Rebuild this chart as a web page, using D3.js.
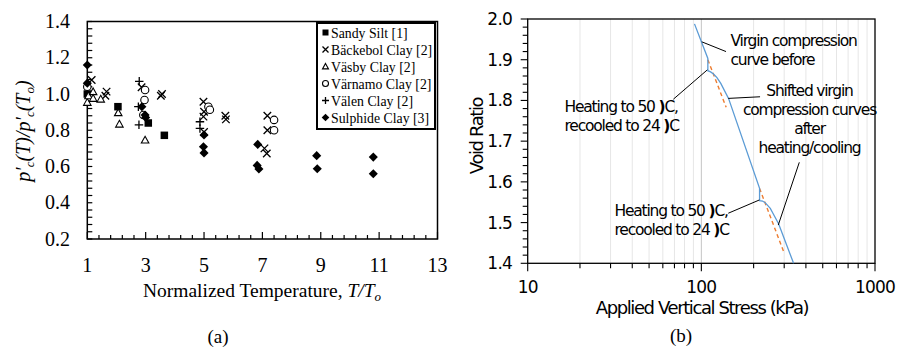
<!DOCTYPE html>
<html>
<head>
<meta charset="utf-8">
<script src="https://cdn.jsdelivr.net/npm/d3@7"></script>
<style>
  body { margin: 0; background: #fff; }
  svg { display: block; }
</style>
</head>
<body>
<svg id="chart" width="898" height="349"></svg>
<script>
// ---- panel (a) data: [T/To, p'c(T)/p'c(To)] ----
const sandySilt = [[1.0, 1.0], [2.05, 0.93], [3.09, 0.84], [3.64, 0.772]];
const backebolClay = [[1.15, 1.077], [1.66, 1.013], [1.62, 0.99], [2.86, 1.037], [3.52, 0.99], [3.56, 1.0],
  [4.98, 0.957], [5.0, 0.902], [4.98, 0.875], [5.0, 0.79], [5.73, 0.88], [5.75, 0.86],
  [7.17, 0.88], [7.17, 0.80], [7.07, 0.70], [7.15, 0.672]];
const vasbyClay = [[1.0, 0.954], [1.04, 0.99], [1.2, 1.013], [1.2, 0.976], [1.46, 0.972],
  [2.06, 0.897], [2.1, 0.834], [2.98, 0.746]];
const varnamoClay = [[1.0, 1.04], [2.98, 1.022], [2.96, 0.967], [2.92, 0.884],
  [5.15, 0.93], [5.2, 0.913], [7.4, 0.857], [7.4, 0.80]];
const valenClay = [[2.78, 1.07], [2.75, 0.93], [2.77, 0.83], [4.86, 0.847], [4.86, 0.81]];
const sulphideClay = [[1.0, 1.16], [1.0, 1.06], [2.87, 0.93], [2.98, 0.884], [3.0, 0.87],
  [5.0, 0.774], [4.98, 0.709], [5.0, 0.675], [6.84, 0.722], [6.82, 0.606], [6.88, 0.586],
  [8.86, 0.66], [8.88, 0.588], [10.8, 0.652], [10.8, 0.56]];
const seriesNames = ["Sandy Silt [1]", "Bäckebol Clay [2]", "Väsby Clay [2]", "Värnamo Clay [2]", "Välen Clay [2]", "Sulphide Clay [3]"];
const xTicksA = [1, 3, 5, 7, 9, 11, 13];
const yTicksA = [0.2, 0.4, 0.6, 0.8, 1.0, 1.2, 1.4];

// ---- panel (b) data: [stress kPa, void ratio] ----
const virginCurve = [[91.3, 1.988], [109, 1.903], [109, 1.873], [113, 1.870], [117.5, 1.865], [123, 1.856],
  [129.4, 1.842], [143.4, 1.805], [216.4, 1.584], [216.4, 1.554], [225, 1.553], [233, 1.549],
  [249.5, 1.535], [262, 1.518], [278.5, 1.497], [339.7, 1.4]];
const originalLine1 = [[109, 1.90], [139, 1.783]];
const originalLine2 = [[216.4, 1.584], [297.6, 1.429]];
const xTicksB = [10, 100, 1000];
const yTicksB = [1.4, 1.5, 1.6, 1.7, 1.8, 1.9, 2.0];
const leaders = [
  [[100.5, 1.944], [138.7, 1.920]],
  [[142.9, 1.805], [217.8, 1.809]],
  [[366.5, 1.648], [277.3, 1.494]],
  [[69, 1.803], [108.2, 1.875]],
  [[142.9, 1.523], [215.7, 1.5555]]
];

const svg = d3.select("#chart");
const serif = "'Liberation Serif', 'Times New Roman', serif";
const sans = "'DejaVu Sans', Verdana, sans-serif";

// ================= panel (a) =================
const xA = d3.scaleLinear().domain([1, 13]).range([87.3, 437.5]);
const yA = d3.scaleLinear().domain([0.2, 1.4]).range([239, 21.5]);
const gA = svg.append("g");

// inward minor ticks
gA.selectAll(".ytickA").data(d3.range(0.2, 1.401, 0.04)).enter().append("line")
  .attr("x1", xA(1)).attr("x2", xA(1) + 5)
  .attr("y1", d => yA(d)).attr("y2", d => yA(d))
  .attr("stroke", "#000").attr("stroke-width", 1.2);
gA.selectAll(".xtickA").data(d3.range(1, 13.001, 0.4)).enter().append("line")
  .attr("x1", d => xA(d)).attr("x2", d => xA(d))
  .attr("y1", yA(0.2))
  .attr("y2", d => yA(0.2) - (Math.abs((d - 1) / 2 - Math.round((d - 1) / 2)) < 0.01 ? 7 : 4))
  .attr("stroke", "#000").attr("stroke-width", 1.2);

gA.append("rect")
  .attr("x", xA(1)).attr("y", yA(1.4))
  .attr("width", xA(13) - xA(1)).attr("height", yA(0.2) - yA(1.4))
  .attr("fill", "none").attr("stroke", "#000").attr("stroke-width", 1.5);

gA.selectAll(".ylabA").data(yTicksA).enter().append("text")
  .attr("x", 70).attr("y", d => yA(d) + 6.5)
  .attr("text-anchor", "end").attr("font-family", serif).attr("font-size", 20)
  .text(d => d.toFixed(1));
gA.selectAll(".xlabA").data(xTicksA).enter().append("text")
  .attr("x", d => xA(d)).attr("y", 272)
  .attr("text-anchor", "middle").attr("font-family", serif).attr("font-size", 20)
  .text(d => d);

const xt = gA.append("text").attr("x", 262).attr("y", 297)
  .attr("text-anchor", "middle").attr("font-family", serif).attr("font-size", 19.5);
xt.append("tspan").text("Normalized Temperature, ");
xt.append("tspan").attr("font-style", "italic").text("T/T");
xt.append("tspan").attr("font-style", "italic").attr("font-size", 13).attr("dy", 4).text("o");

const yt = gA.append("text").attr("transform", "translate(30,131) rotate(-90)")
  .attr("text-anchor", "middle").attr("font-family", serif).attr("font-size", 20)
  .attr("font-style", "italic");
yt.append("tspan").text("p′");
yt.append("tspan").attr("font-size", 13).attr("dy", 4).text("c");
yt.append("tspan").attr("dy", -4).text("(T)/p′");
yt.append("tspan").attr("font-size", 13).attr("dy", 4).text("c");
yt.append("tspan").attr("dy", -4).text("(T");
yt.append("tspan").attr("font-size", 13).attr("dy", 4).text("o");
yt.append("tspan").attr("dy", -4).text(")");

gA.append("text").attr("x", 218).attr("y", 343).attr("text-anchor", "middle")
  .attr("font-family", serif).attr("font-size", 19).text("(a)");

// marker drawing
function marker(sel, kind, s) {
  if (kind === "square") {
    sel.append("rect").attr("x", -s / 2).attr("y", -s / 2).attr("width", s).attr("height", s).attr("fill", "#000");
  } else if (kind === "cross") {
    const h = s / 2;
    sel.append("path").attr("d", `M${-h},${-h}L${h},${h}M${-h},${h}L${h},${-h}`)
      .attr("stroke", "#000").attr("stroke-width", 1.3).attr("fill", "none");
  } else if (kind === "triangle") {
    const h = s / 2;
    sel.append("path").attr("d", `M0,${-h}L${h},${h * 0.8}L${-h},${h * 0.8}Z`)
      .attr("stroke", "#000").attr("stroke-width", 1.1).attr("fill", "#fff");
  } else if (kind === "circle") {
    sel.append("circle").attr("r", s / 2).attr("stroke", "#000").attr("stroke-width", 1.1).attr("fill", "#fff");
  } else if (kind === "plus") {
    const h = s / 2 + 0.5;
    sel.append("path").attr("d", `M${-h},0L${h},0M0,${-h}L0,${h}`)
      .attr("stroke", "#000").attr("stroke-width", 1.3).attr("fill", "none");
  } else if (kind === "diamond") {
    const h = s / 2 + 0.8;
    sel.append("path").attr("d", `M0,${-h}L${h},0L0,${h}L${-h},0Z`).attr("fill", "#000");
  }
}

const seriesA = [
  { data: sandySilt, kind: "square" },
  { data: backebolClay, kind: "cross" },
  { data: vasbyClay, kind: "triangle" },
  { data: varnamoClay, kind: "circle" },
  { data: valenClay, kind: "plus" },
  { data: sulphideClay, kind: "diamond" }
];
seriesA.forEach(s => {
  gA.selectAll(null).data(s.data).enter().append("g")
    .attr("transform", d => `translate(${xA(d[0])},${yA(d[1])})`)
    .each(function () { marker(d3.select(this), s.kind, 7.5); });
});

// legend
const lg = gA.append("g");
lg.append("rect").attr("x", 317).attr("y", 23).attr("width", 118).attr("height", 106)
  .attr("fill", "#fff").attr("stroke", "#000").attr("stroke-width", 2);
seriesNames.forEach((name, i) => {
  const cy = 32.5 + i * 17;
  const m = lg.append("g").attr("transform", `translate(325.5,${cy})`);
  marker(m, seriesA[i].kind, 6);
  lg.append("text").attr("x", 331).attr("y", cy + 5)
    .attr("font-family", serif).attr("font-size", 13.8).text(name);
});

// ================= panel (b) =================
const xB = d3.scaleLog().domain([10, 1000]).range([527.7, 875]);
const yB = d3.scaleLinear().domain([1.4, 2.0]).range([263.3, 19]);
const gB = svg.append("g");

const logMinor = [];
[10, 100].forEach(b => { for (let k = 2; k <= 9; k++) logMinor.push(b * k); });
gB.selectAll(".grid").data(logMinor.concat([100])).enter().append("line")
  .attr("x1", d => xB(d)).attr("x2", d => xB(d))
  .attr("y1", yB(2.0)).attr("y2", yB(1.4))
  .attr("stroke", d => d === 100 ? "#c4c4c4" : "#e6e6e6").attr("stroke-width", 1);

// y ticks outward
gB.selectAll(".ytickB").data(d3.range(1.4, 2.001, 0.02)).enter().append("line")
  .attr("x1", xB(10)).attr("x2", d => xB(10) - (Math.abs(d * 10 - Math.round(d * 10)) < 0.01 ? 7 : 5))
  .attr("y1", d => yB(d)).attr("y2", d => yB(d))
  .attr("stroke", "#000").attr("stroke-width", 1.1);
// x ticks outward
gB.selectAll(".xtickB").data(logMinor.concat(xTicksB)).enter().append("line")
  .attr("x1", d => xB(d)).attr("x2", d => xB(d))
  .attr("y1", yB(1.4)).attr("y2", d => yB(1.4) + (xTicksB.includes(d) ? 8 : 5))
  .attr("stroke", "#000").attr("stroke-width", 1.1);

gB.append("rect")
  .attr("x", xB(10)).attr("y", yB(2.0))
  .attr("width", xB(1000) - xB(10)).attr("height", yB(1.4) - yB(2.0))
  .attr("fill", "none").attr("stroke", "#000").attr("stroke-width", 1.3);

gB.selectAll(".ylabB").data(yTicksB).enter().append("text")
  .attr("x", 512).attr("y", d => yB(d) + 6)
  .attr("text-anchor", "end").attr("font-family", sans).attr("font-size", 17)
  .attr("letter-spacing", -0.8).text(d => d.toFixed(1));
gB.selectAll(".xlabB").data(xTicksB).enter().append("text")
  .attr("x", d => xB(d)).attr("y", 293)
  .attr("text-anchor", "middle").attr("font-family", sans).attr("font-size", 17)
  .attr("letter-spacing", -0.8).text(d => d);

gB.append("text").attr("x", 702).attr("y", 314).attr("text-anchor", "middle")
  .attr("font-family", sans).attr("font-size", 18).attr("letter-spacing", -1.4)
  .text("Applied Vertical Stress (kPa)");
gB.append("text").attr("transform", "translate(483,136) rotate(-90)").attr("text-anchor", "middle")
  .attr("font-family", sans).attr("font-size", 18).attr("letter-spacing", -1.4)
  .text("Void Ratio");
gB.append("text").attr("x", 681).attr("y", 342).attr("text-anchor", "middle")
  .attr("font-family", serif).attr("font-size", 19).text("(b)");

const lineB = d3.line().x(d => xB(d[0])).y(d => yB(d[1]));
[originalLine1, originalLine2].forEach(seg => {
  gB.append("path").attr("d", lineB(seg)).attr("fill", "none")
    .attr("stroke", "#ed7d31").attr("stroke-width", 1.4).attr("stroke-dasharray", "4,3");
});
gB.append("path").attr("d", lineB(virginCurve)).attr("fill", "none")
  .attr("stroke", "#5b9bd5").attr("stroke-width", 1.3);

leaders.forEach(seg => {
  gB.append("path").attr("d", lineB(seg)).attr("fill", "none")
    .attr("stroke", "#000").attr("stroke-width", 1);
});

function note(lines, x, y0, anchor) {
  const t = gB.append("text").attr("font-family", sans).attr("font-size", 15.5)
    .attr("letter-spacing", -1.2).attr("text-anchor", anchor);
  lines.forEach((l, i) => {
    const ts = t.append("tspan").attr("x", x).attr("y", y0 + i * 19.2);
    // the degree sign survives in the source only as a heavy ")" glyph
    const parts = l.split("|");
    parts.forEach((p, j) => {
      if (j > 0) ts.append("tspan").attr("font-weight", "bold").text(")");
      ts.append("tspan").text(p);
    });
  });
}
note(["Virgin compression", "curve before"], 730.5, 46, "start");
note(["Shifted virgin", "compression curves", "after", "heating/cooling"], 809.5, 95.5, "middle");
note(["Heating to 50 |C,", "recooled to 24 |C"], 564.5, 111.5, "start");
note(["Heating to 50 |C,", "recooled to 24 |C"], 614.5, 216, "start");
</script>
</body>
</html>
